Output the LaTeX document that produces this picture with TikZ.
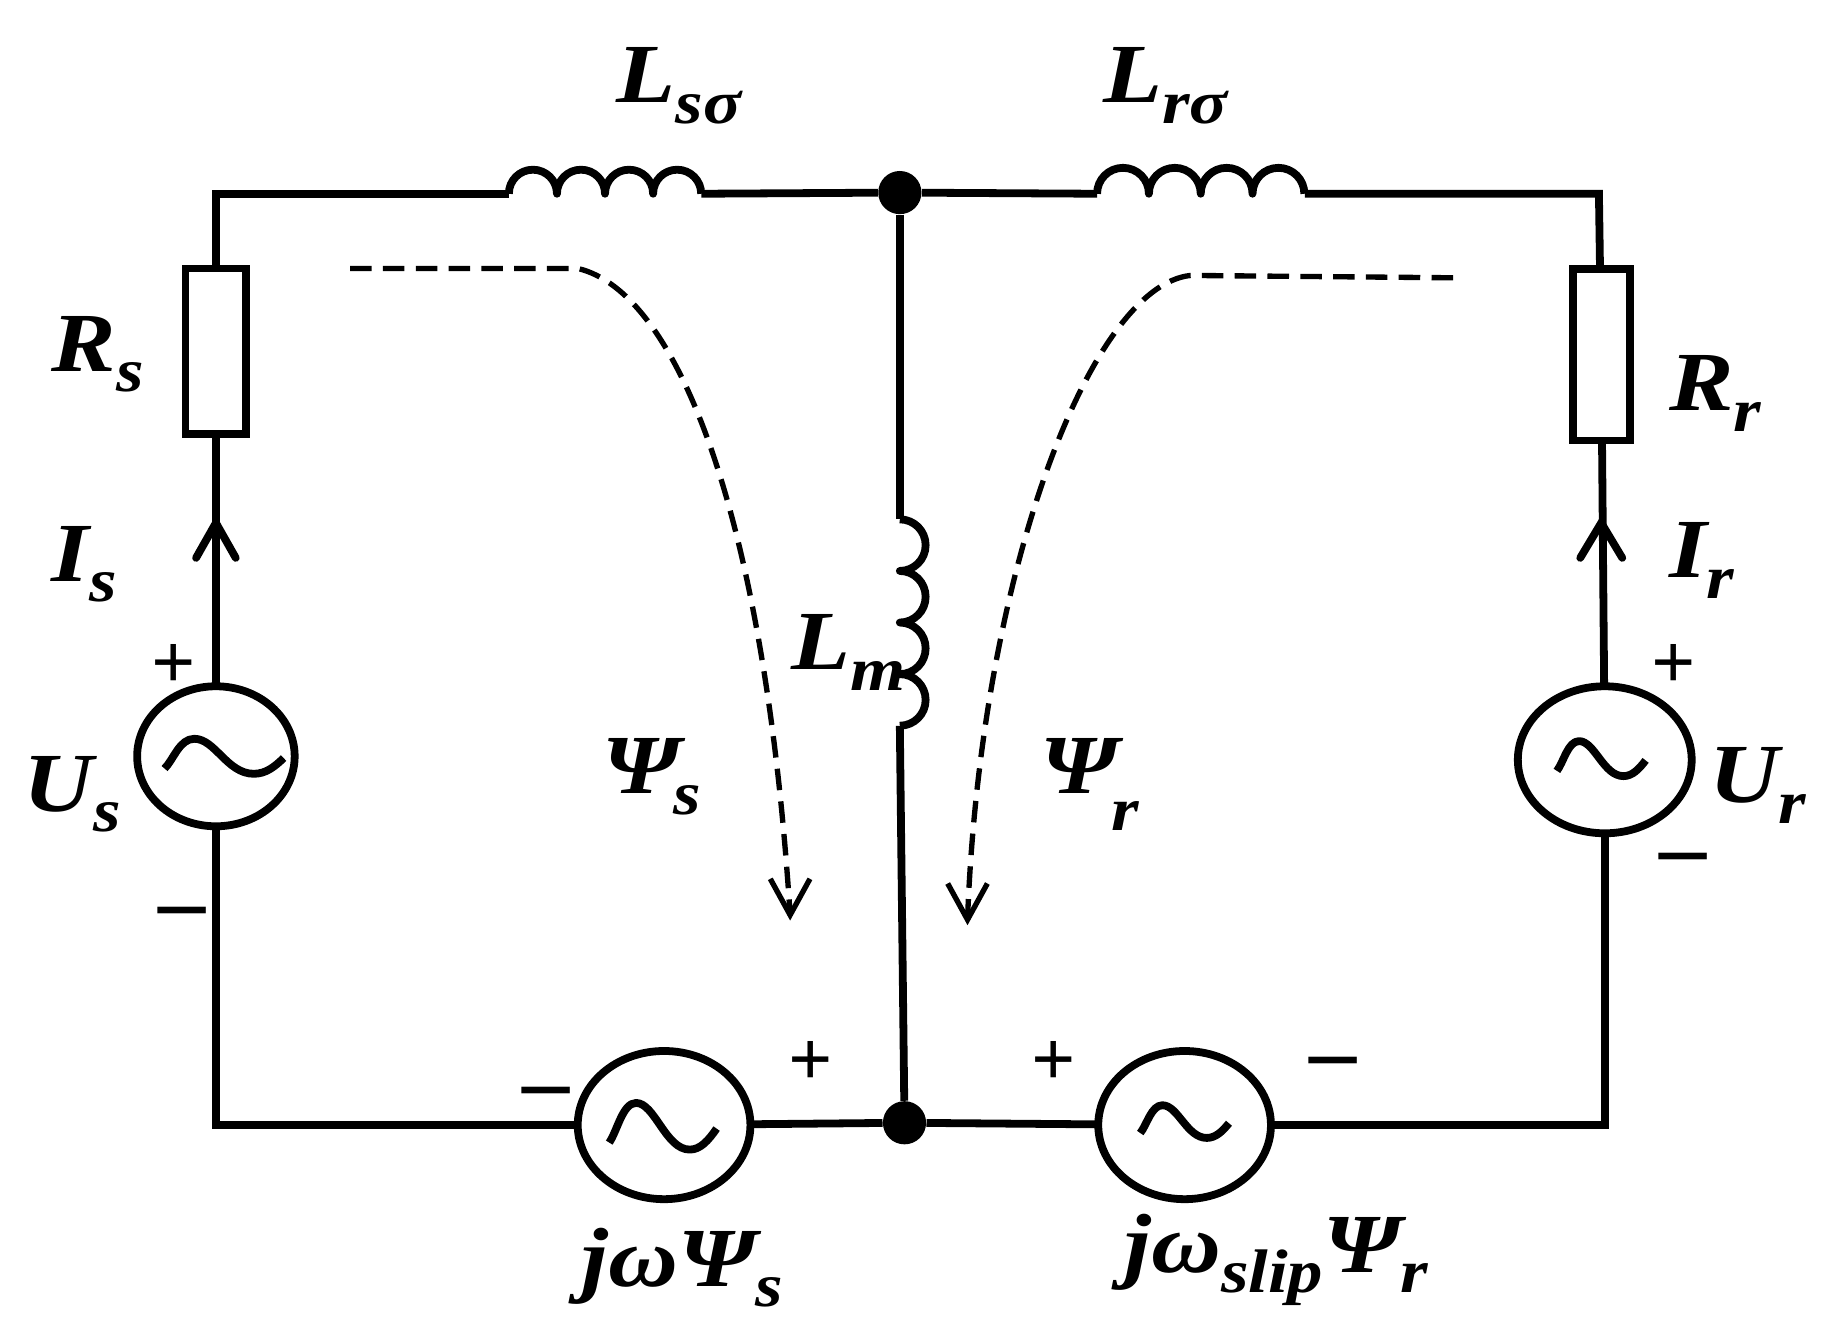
\documentclass[tikz,border=0pt]{standalone}
\usepackage{fontspec}
\setmainfont[FakeStretch=1.15]{Liberation Serif}
\newfontfamily\signfont{Liberation Serif}
\usetikzlibrary{calc,shapes.geometric}
\tikzset{
 x=0.02cm,y=-0.02cm,
 wire/.style={line width=3.8pt,line join=miter},
 coil/.style={line width=3.8pt,line join=round,line cap=butt},
 src/.style={ellipse,draw,line width=3.8pt,fill=white,inner sep=0pt},
 res/.style={rectangle,draw,line width=3.8pt,fill=white,inner sep=0pt},
 jdot/.style={circle,fill=black,inner sep=0pt,minimum size=0.74cm},
 lab/.style={font=\bfseries\itshape\fontsize{41}{41}\selectfont,inner sep=0pt,anchor=base west},
 plussym/.style={font=\signfont\bfseries\fontsize{38}{38}\selectfont,inner sep=0pt},
 minussym/.style={font=\signfont\bfseries\fontsize{46}{46}\selectfont,inner sep=0pt},
 flux/.style={line width=2.6pt,dash pattern=on 10.5pt off 5.5pt},
 fluxtip/.style={line width=2.6pt,line join=miter},
 curtip/.style={line width=3.8pt,line cap=round,line join=miter},
 wavesym/.pic={\draw[line width=3.8pt,line join=round] (-1,.7) .. controls (-.85,.2) and (-.75,-1) .. (-.5,-1) .. controls (-.15,-1) and (.05,1) .. (.5,1) .. controls (.7,1) and (.85,.6) .. (1,.1);},
}
\newcommand{\sbs}[1]{\raisebox{-10pt}{\fontsize{30}{30}\selectfont #1}}
\begin{document}
\begin{tikzpicture}
\useasboundingbox (0,0) rectangle (1568,1136);
\fill[white] (0,0) rectangle (1568,1136);
% corners
\coordinate (tl) at (185,166);
\coordinate (tr) at (1370,166);
\coordinate (bl) at (185,964);
\coordinate (br) at (1375,964);
\node[jdot] (jt) at (771,165) {};
\node[jdot] (jb) at (775,962) {};
% inductor anchor points
\coordinate (ls1) at (436,166); \coordinate (ls2) at (601,166);
\coordinate (lr1) at (940,166); \coordinate (lr2) at (1118,166);
\coordinate (lm1) at (771,445); \coordinate (lm2) at (771,622);
% wires
\draw[wire] (ls1) -- (tl) -- (185,301);
\draw[wire] (ls2) -- (jt);
\draw[wire] (jt) -- (lr1);
\draw[wire] (lr2) -- (tr) -- (1372,304);
\draw[wire] (185,301) -- (185,648);
\draw[wire] (1372,304) -- (1375,648);
\draw[wire] (185,648) -- (bl) -- (569,964);
\draw[wire] (569,964) -- (jb);
\draw[wire] (jb) -- (1015,964);
\draw[wire] (1015,964) -- (br) -- (1375,648);
\draw[wire] (jt) -- (lm1);
\draw[wire] (lm2) -- (jb);
% elements
\node[res,minimum width=1.04cm,minimum height=2.84cm] (rs) at (185,301) {};
\node[res,minimum width=0.98cm,minimum height=2.94cm] (rr) at (1372,304) {};
\node[src,minimum width=2.7cm,minimum height=2.4cm] (us) at (185,648) {};
\node[src,minimum width=2.98cm,minimum height=2.52cm] (ur) at (1375,651) {};
\node[src,minimum width=2.96cm,minimum height=2.54cm] (gs) at (569,964) {};
\node[src,minimum width=2.96cm,minimum height=2.54cm] (gr) at (1015,964) {};
% inductors
\draw[coil] (ls1) arc[start angle=180,end angle=360,radius=20.6] arc[start angle=180,end angle=360,radius=20.6] arc[start angle=180,end angle=360,radius=20.6] arc[start angle=180,end angle=360,radius=20.6];
\draw[coil] (lr1) arc[start angle=180,end angle=360,radius=22.2] arc[start angle=180,end angle=360,radius=22.2] arc[start angle=180,end angle=360,radius=22.2] arc[start angle=180,end angle=360,radius=22.2];
\draw[coil] (lm1) arc[start angle=-90,end angle=90,radius=22.1] arc[start angle=-90,end angle=90,radius=22.1] arc[start angle=-90,end angle=90,radius=22.1] arc[start angle=-90,end angle=90,radius=22.1];
% source waves
\pic[xscale=51,yscale=15] at (192,648) {wavesym};
\pic[xscale=38,yscale=15] at (1372,650) {wavesym};
\pic[xscale=46,yscale=20] at (568,965) {wavesym};
\pic[xscale=38,yscale=14] at (1015,961) {wavesym};
% current arrows
\coordinate (is) at (185,448);
\coordinate (ir) at (1372,448);
\draw[curtip] ($(is)+(-17,30)$) -- (is) -- ($(is)+(17,30)$);
\draw[curtip] ($(ir)+(-18,30)$) -- (ir) -- ($(ir)+(18,30)$);
% flux paths
\coordinate (fsa) at (300,230); \coordinate (fsb) at (495,230); \coordinate (fsc) at (677,784);
\coordinate (fra) at (1245,238); \coordinate (frb) at (1020,236); \coordinate (frc) at (829,788);
\draw[flux] (fsa) -- (fsb) .. controls (580,250) and (655,440) .. (fsc);
\draw[flux] (fra) -- (frb) .. controls (935,245) and (840,490) .. (frc);
\draw[fluxtip] ($(fsc)+(-17,-31)$) -- (fsc) -- ($(fsc)+(17,-31)$);
\draw[fluxtip] ($(frc)+(-17,-31)$) -- (frc) -- ($(frc)+(17,-31)$);
% labels
\node[lab] (tlss) at (528,88) {L\sbs{sσ}};
\node[lab] (tlrs) at (945,88) {L\sbs{rσ}};
\node[lab] (trs) at (44,318) {R\sbs{s}};
\node[lab] (trr) at (1430,352) {R\sbs{r}};
\node[lab] (tis) at (44,498) {I\sbs{s}};
\node[lab] (tir) at (1430,495) {I\sbs{r}};
\node[lab] (tus) at (20,695) {U\sbs{s}};
\node[lab] (tur) at (1464,688) {U\sbs{r}};
\node[lab] (tlm) at (678,574) {L\sbs{m}};
\node[lab] (tps) at (516,680) {Ψ\raisebox{-10pt}{\fontsize{30}{30}\selectfont\kern-3pt s}};
\node[lab] (tpr) at (891,680) {Ψ\raisebox{-18pt}{\fontsize{30}{30}\selectfont\kern-3pt r}};
\node[lab] (tjs) at (498,1102) {jωΨ\sbs{s}};
\node[lab] (tjr) at (963,1090) {jω\sbs{slip}Ψ\sbs{r}};
% signs
\node[plussym] (p1) at (149,571) {+};
\node[minussym] (m1) at (156,788) {–};
\node[plussym] (p2) at (1434,571) {+};
\node[minussym] (m2) at (1442,742) {–};
\node[minussym] (m3) at (468,942) {–};
\node[plussym] (p3) at (695,911) {+};
\node[plussym] (p4) at (903,911) {+};
\node[minussym] (m4) at (1142,917) {–};
\end{tikzpicture}
\end{document}
